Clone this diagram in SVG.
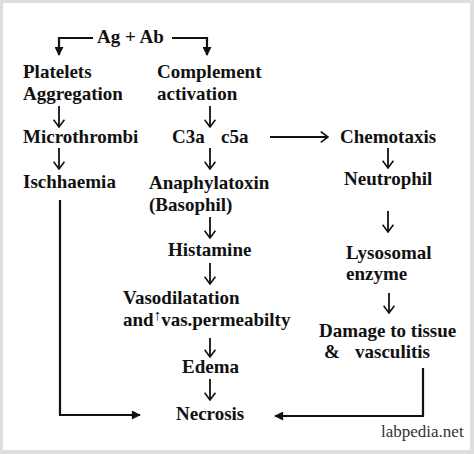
<svg xmlns="http://www.w3.org/2000/svg" width="474" height="454" viewBox="0 0 474 454">
<defs>
<style>
.t{font-family:"Liberation Serif","Times New Roman",serif;font-weight:bold;font-size:19px;fill:#111}
.c{stroke:#111;fill:none;stroke-width:2.2}
.d{stroke:#111;fill:none;stroke-width:1.8}
.w{font-family:"Liberation Serif","Times New Roman",serif;font-size:17px;fill:#333}
</style>
<marker id="fa" viewBox="0 0 10 10" refX="9" refY="5" markerUnits="userSpaceOnUse" markerWidth="10" markerHeight="9" orient="auto">
<path d="M0,0 L10,5 L0,10 z" fill="#111"/>
</marker>
<marker id="oa" viewBox="0 0 10 14" refX="9" refY="7" markerUnits="userSpaceOnUse" markerWidth="9" markerHeight="13" orient="auto">
<path d="M1,1 L9,7 L1,13" fill="none" stroke="#111" stroke-width="1.8"/>
</marker>
</defs>
<rect x="0" y="0" width="474" height="454" fill="#dedede"/>
<rect x="3" y="3" width="467" height="447" fill="#ffffff"/>

<g id="connectors">
<path class="c" d="M93,38 H59 V55" marker-end="url(#fa)"/>
<path class="c" d="M172,38 H207 V55" marker-end="url(#fa)"/>
<path class="d" d="M59,106 V127" marker-end="url(#oa)"/>
<path class="d" d="M210,106 V127" marker-end="url(#oa)"/>
<path class="d" d="M59,148 V169" marker-end="url(#oa)"/>
<path class="d" d="M210,148 V169" marker-end="url(#oa)"/>
<path class="d" d="M270,137 H328" marker-end="url(#oa)"/>
<path class="d" d="M388,148 V168" marker-end="url(#oa)"/>
<path class="d" d="M210,217 V238" marker-end="url(#oa)"/>
<path class="d" d="M388,211 V232" marker-end="url(#oa)"/>
<path class="d" d="M210,263 V284" marker-end="url(#oa)"/>
<path class="d" d="M389,293 V313" marker-end="url(#oa)"/>
<path class="d" d="M210,338 V357" marker-end="url(#oa)"/>
<path class="d" d="M210,379 V400" marker-end="url(#oa)"/>
<path class="c" d="M60,200 V415 H140" marker-end="url(#fa)"/>
<path class="c" d="M423,368 V416 H275" marker-end="url(#fa)"/>
</g>

<g id="n-agab"><text class="t" x="97" y="43">Ag + Ab</text></g>
<g id="n-platelets"><text class="t" x="23" y="78">Platelets</text><text class="t" x="23" y="100">Aggregation</text></g>
<g id="n-complement"><text class="t" x="157" y="78">Complement</text><text class="t" x="157" y="100">activation</text></g>
<g id="n-microthrombi"><text class="t" x="23" y="143">Microthrombi</text></g>
<g id="n-c3a"><text class="t" x="172" y="143">C3a<tspan x="221">c5a</tspan></text></g>
<g id="n-chemotaxis"><text class="t" x="340" y="143">Chemotaxis</text></g>
<g id="n-ischhaemia"><text class="t" x="23" y="188">Ischhaemia</text></g>
<g id="n-anaphylatoxin"><text class="t" x="149" y="189">Anaphylatoxin</text><text class="t" x="149" y="211">(Basophil)</text></g>
<g id="n-neutrophil"><text class="t" x="344" y="185">Neutrophil</text></g>
<g id="n-histamine"><text class="t" x="168" y="256">Histamine</text></g>
<g id="n-lysosomal"><text class="t" x="346" y="259">Lysosomal</text><text class="t" x="346" y="280">enzyme</text></g>
<g id="n-vasodilatation"><text class="t" x="123" y="304">Vasodilatation</text><text class="t" x="123" y="326">and<tspan font-size="15" font-weight="normal" dy="-6" dx="0">↑</tspan><tspan dy="6" dx="0">vas.permeabilty</tspan></text></g>
<g id="n-damage"><text class="t" x="319" y="337">Damage to tissue</text><text class="t" x="324" y="358">&amp;<tspan x="355">vasculitis</tspan></text></g>
<g id="n-edema"><text class="t" x="182" y="373">Edema</text></g>
<g id="n-necrosis"><text class="t" x="176" y="420">Necrosis</text></g>
<text class="w" x="381" y="437">labpedia.net</text>
</svg>
